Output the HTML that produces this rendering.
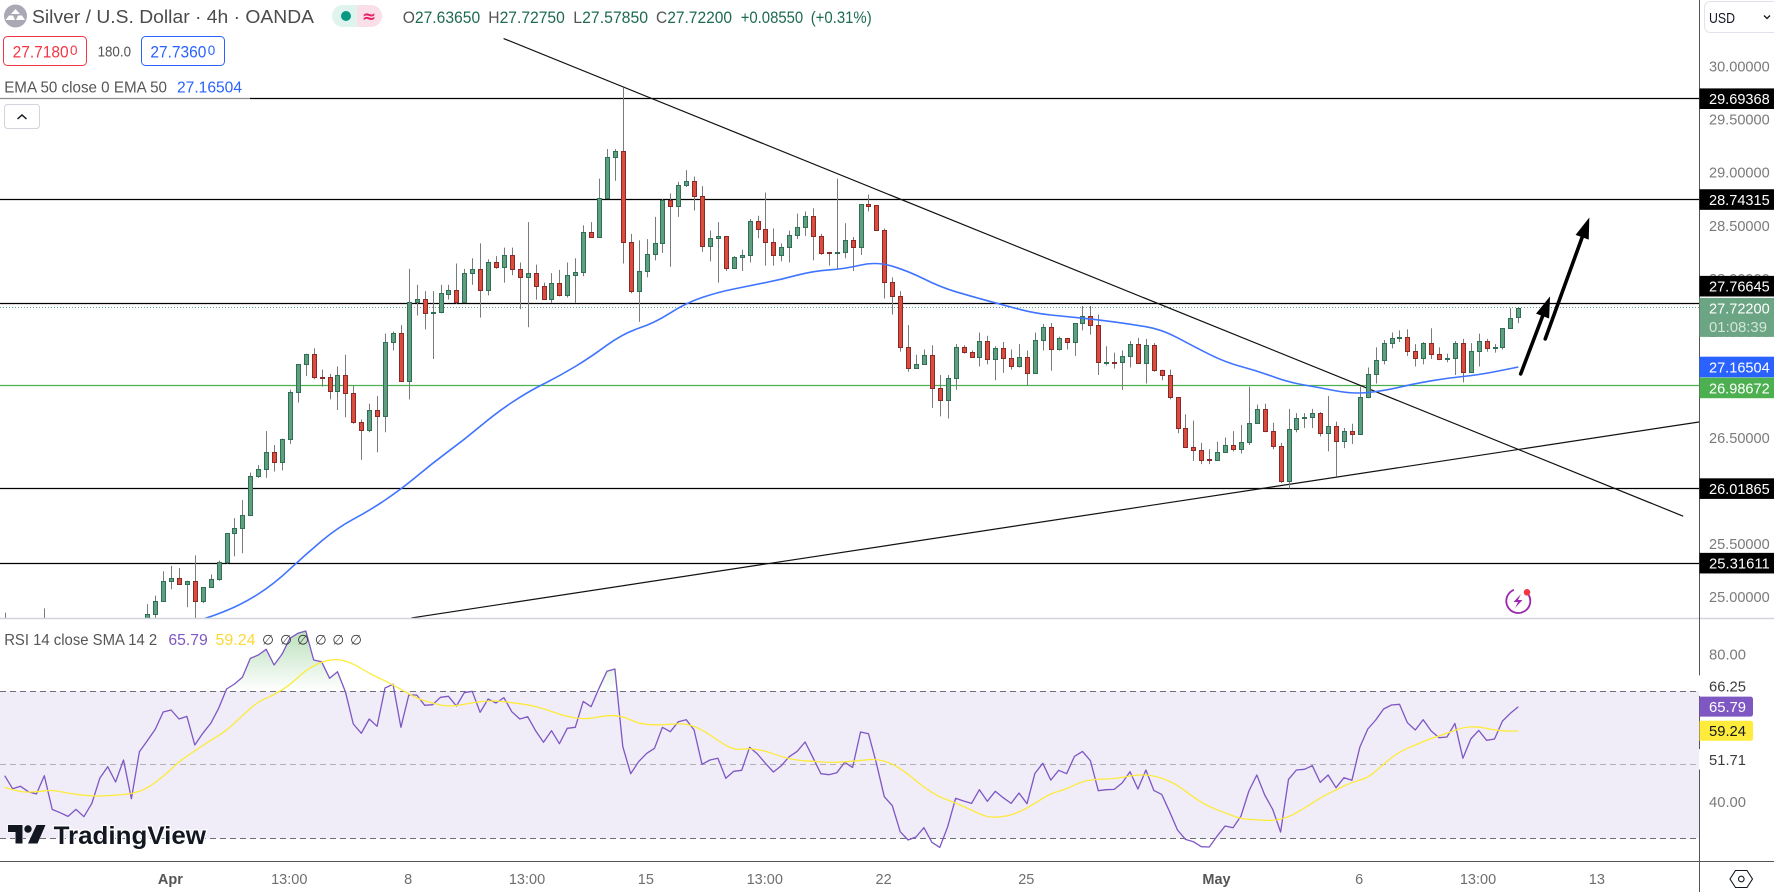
<!DOCTYPE html>
<html lang="en">
<head>
<meta charset="utf-8">
<title>Silver / U.S. Dollar 4h chart</title>
<style>
html,body{margin:0;padding:0;background:#fff;width:1774px;height:892px;overflow:hidden}
svg{display:block;font-family:"Liberation Sans",sans-serif}
text{white-space:pre}
</style>
</head>
<body>
<svg id="chart" xmlns="http://www.w3.org/2000/svg" width="1774" height="892" viewBox="0 0 1774 892">
  <defs>
    <clipPath id="price-clip"><rect x="0" y="0" width="1699" height="618"/></clipPath>
    <clipPath id="rsi-clip"><rect x="0" y="619" width="1699" height="242"/></clipPath>
    <clipPath id="overbought-clip"><rect x="0" y="619" width="1699" height="72"/></clipPath>
    <linearGradient id="overbought-gradient" gradientUnits="userSpaceOnUse" x1="0" y1="632" x2="0" y2="691">
      <stop offset="0" stop-color="#4caf50" stop-opacity="0.38"/>
      <stop offset="1" stop-color="#4caf50" stop-opacity="0"/>
    </linearGradient>
  </defs>
  <rect x="0" y="0" width="1774" height="892" fill="#ffffff"/>
  <g id="price-layer" clip-path="url(#price-clip)"></g>
  <g id="rsi-layer"></g>
  <g id="axis-layer"></g>

  <rect x="0" y="76" width="250" height="24" fill="#ffffff" fill-opacity="0.55"/>

  <g>
    <circle cx="15.5" cy="16" r="11.5" fill="#a9a8b4"/>
    <path d="M11 14l4.5-5 4.5 5zM5.5 20l3.5-4.5h4l2 4.500zM16 20l2-4.500h4l3 4.500z" fill="#ffffff"/>
    <text x="32" y="23" font-size="18" fill="#4c4c4c" textLength="282" lengthAdjust="spacingAndGlyphs">Silver / U.S. Dollar · 4h · OANDA</text>
    <path d="M343 5h14v22h-14a11 11 0 0 1 0-22z" fill="#dff3ef"/>
    <circle cx="346" cy="16" r="5" fill="#089981"/>
    <path d="M357 5h14a11 11 0 0 1 0 22h-14z" fill="#fbdfe8"/>
    <text x="369" y="22" font-size="17" font-weight="bold" text-anchor="middle" fill="#e91e63" font-family="'DejaVu Sans',sans-serif">≈</text>
  </g>

  <g font-size="16.500" fill="#1f6b50">
    <text x="402.700" y="23" textLength="77.500" lengthAdjust="spacingAndGlyphs"><tspan fill="#555555">O</tspan>27.63650</text>
    <text x="488.300" y="23" textLength="76.500" lengthAdjust="spacingAndGlyphs"><tspan fill="#555555">H</tspan>27.72750</text>
    <text x="573.300" y="23" textLength="74.800" lengthAdjust="spacingAndGlyphs"><tspan fill="#555555">L</tspan>27.57850</text>
    <text x="656" y="23" textLength="76" lengthAdjust="spacingAndGlyphs"><tspan fill="#555555">C</tspan>27.72200</text>
    <text x="740.700" y="23" textLength="62.500" lengthAdjust="spacingAndGlyphs">+0.08550</text>
    <text x="810.700" y="23" textLength="61" lengthAdjust="spacingAndGlyphs">(+0.31%)</text>
  </g>

  <g>
    <rect x="3.500" y="36.500" width="83" height="29" rx="4" fill="#ffffff" stroke="#f23645"/>
    <text x="12.600" y="57.500" font-size="17" fill="#f23645" textLength="56" lengthAdjust="spacingAndGlyphs">27.7180</text>
    <text x="70" y="55" font-size="14" fill="#f23645" textLength="7.500" lengthAdjust="spacingAndGlyphs">0</text>
    <text x="97.600" y="56.500" font-size="15" fill="#555555" textLength="33.400" lengthAdjust="spacingAndGlyphs">180.0</text>
    <rect x="141.500" y="36.500" width="83" height="29" rx="4" fill="#ffffff" stroke="#2962ff"/>
    <text x="150.400" y="57.500" font-size="17" fill="#2962ff" textLength="56" lengthAdjust="spacingAndGlyphs">27.7360</text>
    <text x="207.800" y="55" font-size="14" fill="#2962ff" textLength="7.500" lengthAdjust="spacingAndGlyphs">0</text>
  </g>

  <g>
    <text x="4.200" y="92.500" font-size="16" fill="#555555" textLength="162.800" lengthAdjust="spacingAndGlyphs">EMA 50 close 0 EMA 50</text>
    <text x="177" y="92.500" font-size="16" fill="#2962ff" textLength="65" lengthAdjust="spacingAndGlyphs">27.16504</text>
  </g>
  <g>
    <rect x="4.500" y="104.500" width="35" height="24" rx="3" fill="#ffffff" stroke="#d1d4dc"/>
    <path d="M17.500 119l4.500-4 4.500 4" fill="none" stroke="#131722" stroke-width="1.500"/>
  </g>

  <g font-size="16">
    <text x="4.200" y="645" fill="#555555" textLength="153" lengthAdjust="spacingAndGlyphs">RSI 14 close SMA 14 2</text>
    <text x="168.400" y="645" fill="#7e57c2" textLength="39.400" lengthAdjust="spacingAndGlyphs">65.79</text>
    <text x="215.500" y="645" fill="#fdd835" textLength="40" lengthAdjust="spacingAndGlyphs">59.24</text>
    <g font-size="13.500" fill="#333333" text-anchor="middle" font-family="'DejaVu Sans',sans-serif">
      <text x="268" y="644.500">∅</text>
      <text x="286" y="644.500">∅</text>
      <text x="303" y="644.500">∅</text>
      <text x="320.700" y="644.500">∅</text>
      <text x="338.300" y="644.500">∅</text>
      <text x="356" y="644.500">∅</text>
    </g>
  </g>

  <g>
    <path d="M8 825h14.500v18.500h-7v-11.500h-7.500z" fill="#131722" stroke="#ffffff" stroke-width="1" paint-order="stroke"/>
    <circle cx="28" cy="829" r="3.700" fill="#131722"/>
    <path d="M36.500 825h9l-8 18.500h-9.500z" fill="#131722"/>
    <text x="53.600" y="844" font-size="25" font-weight="bold" fill="#131722" stroke="#ffffff" stroke-width="2.500" paint-order="stroke" textLength="152.400" lengthAdjust="spacingAndGlyphs">TradingView</text>
  </g>

  <g>
    <circle cx="1518.300" cy="601" r="12" fill="none" stroke="#9c27b0" stroke-width="1.800" stroke-dasharray="58 17" transform="rotate(-30 1518.300 601)"/>
    <path d="M1521 594l-7.500 8h4.500l-3 6 7.500-8h-4.500z" fill="#9c27b0"/>
    <circle cx="1527" cy="592.300" r="3.300" fill="#f23645"/>
  </g>

  <g>
    <rect x="1704.500" y="1.500" width="80" height="31" rx="6" fill="#ffffff" stroke="#e0e3eb"/>
    <text x="1709" y="23" font-size="15" fill="#131722" textLength="26" lengthAdjust="spacingAndGlyphs">USD</text>
    <path d="M1764 15.500l3 3 3-3" fill="none" stroke="#131722" stroke-width="1.300"/>
  </g>

  <g>
    <path d="M1735.500 870.500h11.500l5.500 8.500-5.500 8.500h-11.500l-5.500-8.500z" fill="#ffffff" stroke="#131722" stroke-width="1.100"/>
    <circle cx="1741.300" cy="879" r="2.800" fill="none" stroke="#131722" stroke-width="1.100"/>
  </g>
</svg>

<script>
/* ---------- chart data ---------- */
var opens = [
24.50,24.45,24.40,24.42,24.38,24.44,24.36,24.30,24.28,24.34,24.30,24.26,24.30,24.38,24.44,24.42,24.46,24.55,
24.70,24.84,24.96,25.15,25.18,25.12,25.15,24.96,25.09,25.17,
25.33,25.60,25.65,25.77,26.14,26.20,26.36,26.27,26.49,26.93,
27.19,27.29,27.075,27.07,26.94,27.09,26.92,26.65,26.57,26.76,
26.70,27.40,27.49,27.03,27.78,27.81,27.67,27.68,27.85,27.89,
27.78,28.05,28.09,27.89,28.15,28.11,28.22,28.09,28.01,28.05,
27.93,27.81,27.96,27.84,28.03,28.06,28.44,28.39,28.76,29.14,
29.20,28.34,27.88,28.07,28.23,28.33,28.74,28.68,28.88,28.92,
28.78,28.31,28.38,28.40,28.10,28.20,28.22,28.54,28.47,28.34,
28.22,28.30,28.41,28.48,28.59,28.40,28.245,28.235,28.25,28.36,
28.30,28.70,28.69,28.46,27.97,27.83,27.35,27.16,27.19,27.28,
26.97,26.85,27.06,27.35,27.31,27.26,27.41,27.24,27.34,27.25,
27.17,27.26,27.11,27.42,27.54,27.33,27.44,27.40,27.58,27.65,
27.56,27.207,27.216,27.21,27.27,27.38,27.20,27.37,27.14,27.09,
26.88,26.59,26.41,26.38,26.296,26.29,26.36,26.43,26.39,26.46,
26.64,26.77,26.56,26.42,26.09,26.58,26.68,26.69,26.73,26.54,
26.61,26.47,26.56,26.53,26.88,27.10,27.23,27.39,27.44,27.45,
27.32,27.25,27.39,27.29,27.24,27.25,27.39,27.12,27.32,27.41,
27.34,27.35,27.53,27.6365];
var highs = [
24.85,24.62,24.58,24.66,24.60,24.89,24.55,24.48,24.45,24.52,24.50,24.40,24.47,24.55,24.60,24.58,24.62,24.68,
24.93,25.01,25.24,25.29,25.27,25.15,25.39,25.09,25.21,25.34,
25.60,25.74,25.91,26.17,26.24,26.56,26.43,26.49,26.95,27.19,
27.29,27.34,27.14,27.10,27.17,27.28,26.99,26.67,26.82,26.89,
27.48,27.50,27.56,28.09,27.94,27.88,27.88,27.94,27.94,28.14,
28.09,28.19,28.33,28.18,28.21,28.29,28.29,28.15,28.53,28.13,
27.96,28.05,28.08,28.15,28.19,28.50,28.53,28.94,29.22,29.22,
29.80,28.42,28.36,28.37,28.58,28.75,28.80,28.91,29.02,28.96,
28.87,28.45,28.53,28.40,28.21,28.27,28.56,28.59,28.81,28.47,
28.33,28.45,28.61,28.63,28.66,28.42,28.25,28.94,28.52,28.39,
28.70,28.79,28.69,28.47,28.01,27.88,27.56,27.28,27.33,27.37,
27.09,27.09,27.38,27.37,27.32,27.49,27.46,27.36,27.40,27.33,
27.38,27.32,27.49,27.57,27.58,27.45,27.44,27.58,27.74,27.74,
27.66,27.36,27.30,27.32,27.41,27.44,27.43,27.39,27.14,27.14,
26.88,26.72,26.66,26.45,26.39,26.46,26.50,26.56,26.62,26.98,
26.81,26.82,26.64,26.45,26.77,26.73,26.73,26.77,26.74,26.89,
26.65,26.59,26.63,26.98,27.16,27.35,27.42,27.49,27.51,27.52,
27.38,27.40,27.53,27.35,27.29,27.41,27.43,27.39,27.48,27.43,
27.38,27.53,27.72,27.7275];
var lows = [
24.35,24.30,24.30,24.28,24.28,24.26,24.22,24.20,24.22,24.22,24.18,24.20,24.24,24.32,24.34,24.36,24.40,24.50,
24.60,24.80,24.96,25.07,25.12,24.90,24.79,24.94,25.09,25.15,
25.31,25.38,25.41,25.76,26.12,26.12,26.18,26.19,26.44,26.83,
27.08,27.05,26.98,26.86,26.76,26.69,26.63,26.29,26.55,26.36,
26.55,27.32,27.03,26.86,27.65,27.52,27.24,27.67,27.80,27.76,
27.78,27.94,27.63,27.84,28.09,27.96,28.03,27.71,27.54,27.80,
27.80,27.77,27.83,27.82,27.77,28.02,28.39,28.39,28.75,28.92,
28.14,27.86,27.59,28.01,28.17,28.24,28.11,28.58,28.86,28.64,
28.25,28.16,27.96,28.07,28.10,28.07,28.15,28.38,28.12,28.12,
28.16,28.15,28.37,28.40,28.17,28.22,28.12,28.09,28.19,28.07,
28.22,28.63,28.46,27.81,27.66,27.31,27.12,27.16,27.19,26.78,
26.70,26.68,26.95,27.29,27.25,27.17,27.19,27.04,27.11,27.14,
27.16,26.99,27.11,27.32,27.13,27.32,27.33,27.27,27.51,27.47,
27.09,27.18,27.15,26.95,27.16,27.20,27.01,27.12,27.04,26.86,
26.54,26.40,26.28,26.25,26.25,26.29,26.36,26.37,26.35,26.43,
26.63,26.55,26.39,26.07,26.02,26.55,26.59,26.59,26.51,26.37,
26.13,26.40,26.44,26.53,26.87,27.01,27.19,27.34,27.40,27.27,
27.17,27.19,27.24,27.23,27.21,27.09,27.02,27.11,27.17,27.31,
27.30,27.33,27.53,27.5785];
var closes = [
24.45,24.40,24.42,24.38,24.44,24.36,24.30,24.28,24.34,24.30,24.26,24.30,24.38,24.44,24.42,24.46,24.55,24.70,
24.84,24.96,25.15,25.18,25.12,25.15,24.96,25.09,25.17,25.33,
25.60,25.65,25.77,26.14,26.20,26.36,26.27,26.49,26.93,27.19,
27.29,27.07,27.065,26.94,27.09,26.92,26.65,26.57,26.76,26.70,
27.40,27.49,27.03,27.78,27.81,27.67,27.68,27.86,27.89,27.78,
28.05,28.09,27.89,28.15,28.11,28.22,28.09,28.01,28.05,27.93,
27.81,27.96,27.84,28.03,28.06,28.44,28.39,28.76,29.14,29.20,
28.34,27.88,28.07,28.23,28.33,28.74,28.68,28.88,28.92,28.78,
28.31,28.38,28.40,28.10,28.20,28.22,28.54,28.47,28.34,28.22,
28.30,28.41,28.48,28.59,28.40,28.24,28.235,28.25,28.36,28.30,
28.70,28.685,28.46,27.97,27.83,27.35,27.16,27.19,27.28,26.97,
26.85,27.06,27.35,27.31,27.26,27.41,27.24,27.34,27.25,27.17,
27.26,27.11,27.42,27.54,27.33,27.44,27.40,27.58,27.65,27.56,
27.21,27.216,27.21,27.27,27.38,27.20,27.37,27.14,27.09,26.88,
26.59,26.41,26.38,26.29,26.29,26.36,26.43,26.39,26.46,26.64,
26.77,26.56,26.42,26.09,26.58,26.68,26.69,26.73,26.54,26.61,
26.47,26.56,26.53,26.88,27.10,27.23,27.39,27.44,27.45,27.32,
27.25,27.39,27.29,27.24,27.25,27.39,27.12,27.32,27.41,27.34,
27.35,27.53,27.63,27.722];

var emaBars = [25,26,30,34,38,42,46,50,54,58,62,66,70,74,78,82,86,90,94,98,102,106,110,114,118,122,126,130,134,138,142,146,150,154,158,162,166,170,174,178,182,186,191];
var emaValues = [24.79,24.81,24.93,25.12,25.40,25.65,25.81,26.01,26.26,26.48,26.73,26.93,27.08,27.26,27.48,27.58,27.77,27.87,27.93,27.99,28.07,28.09,28.16,28.07,27.92,27.83,27.75,27.67,27.64,27.61,27.57,27.52,27.36,27.21,27.13,27.02,26.97,26.91,26.94,27.01,27.06,27.09,27.165];

var rsiValues = [
47.06,43.53,44.17,42.72,42.09,47.06,37.92,37.02,36.02,37.92,
35.93,39.55,46.34,49.50,45.34,51.31,40.82,53.58,56.56,59.63,
64.34,64.88,62.44,63.16,55.38,58.55,61.26,65.33,70.58,71.94,
73.75,78.90,79.81,81.35,77.09,79.99,84.33,85.69,86.32,78.45,
78.00,73.48,75.29,69.86,61.08,58.55,62.44,60.45,70.85,71.85,
60.18,68.95,68.95,66.15,66.33,68.32,68.59,65.97,69.59,69.95,
64.25,67.87,66.78,68.23,64.43,62.44,63.07,59.27,56.11,59.27,
55.75,59.91,60.18,67.23,65.79,70.76,75.38,76.01,54.93,47.60,
50.86,53.12,54.48,60.18,59.00,61.72,62.26,59.45,50.14,51.31,
51.77,46.34,48.24,48.51,54.75,52.94,50.41,48.06,49.78,52.22,
53.66,56.20,51.95,47.60,47.33,47.88,50.68,49.32,58.91,58.46,
50.41,41.36,38.92,31.86,29.60,30.42,32.95,28.97,27.61,33.22,
40.91,40.19,39.55,43.26,40.10,42.81,41.09,39.55,42.36,39.46,
47.69,50.41,45.87,48.51,47.60,52.31,53.66,51.13,42.99,43.26,
43.35,45.07,48.15,43.44,48.60,43.08,41.99,37.29,32.32,29.78,
29.15,27.79,27.70,30.69,33.40,32.95,36.11,42.90,47.24,41.81,
37.92,31.77,46.06,48.60,48.78,49.77,45.25,47.24,43.80,46.52,
45.80,54.75,59.73,62.17,65.15,66.24,66.42,61.44,59.45,62.26,
59.18,57.37,57.55,61.26,51.77,57.01,59.36,56.65,57.01,61.90,
63.98,65.79];

var smaBars = [0,2,4,6,8,10,12,14,16,18,20,22,24,26,28,30,32,34,36,38,40,42,44,46,48,50,52,54,56,58,60,62,64,66,68,70,72,74,76,78,80,82,84,86,88,90,92,94,96,98,100,102,104,106,108,110,112,114,116,118,120,122,124,126,128,130,132,134,136,138,140,142,144,146,148,150,152,154,156,158,160,162,164,166,168,170,172,174,176,178,180,182,184,186,188,190,191];
var smaValues = [43.9,42.5,42.7,43.2,42.3,41.7,41.5,41.8,42.1,43.6,46.8,50.9,53.8,56.7,59.3,63.4,67.2,69.0,71.7,75.7,78.0,78.8,77.5,74.8,72.8,70.5,68.05,66.7,65.8,66.4,67.2,67.4,66.9,66.3,65.3,63.7,62.6,62.5,63.5,63.2,61.2,60.8,61.0,61.2,59.6,56.6,54.0,54.5,53.8,52.2,51.2,51.0,50.6,50.8,51.2,51.6,50.4,47.5,43.9,41.2,39.7,37.7,35.75,35.85,37.1,39.55,42.3,43.4,45.6,46.15,46.15,47.06,47.4,46.5,44.5,41.2,38.6,37.0,35.3,35.1,34.8,35.8,38.2,41.1,43.2,45.3,46.4,50.2,53.6,55.4,57.2,58.5,60.2,60.4,59.4,59.1,59.24];

var priceTicks = [30,29.5,29,28.5,28,27.5,27,26.5,26,25.5,25];
var rsiTicks = [80,40];
var rsiBands = [70,50,30];
var rsiBandLabels = ["66.25","51.71"];
var timeBars = [21,36,51,66,81,96,111,129,153,171,186,201];
var timeLabels = ["Apr","13:00","8","13:00","15","13:00","22","25","May","6","13:00","13"];

var blackLevels = [29.69368,28.74315,27.76645,26.01865,25.31611];
var greenLevel = 26.98672;
var lastPrice = 27.722;
var emaLast = 27.16504;

var downTrendBars = [62.96,211.8];
var downTrendPrices = [30.261,25.759];
var upTrendBars = [51.33,213.8];
var upTrendPrices = [24.80,26.647];
var arrowOneBars = [191.3,195.0];
var arrowOnePrices = [27.10,27.83];
var arrowTwoBars = [194.4,199.96];
var arrowTwoPrices = [27.43,28.574];

/* ---------- axis functions ---------- */
function xBar(i){ return 4.65 + 7.925 * i; }
function yPrice(p){ return 66.2 + (30 - p) * 106.1; }
function yRsi(r){ return 654.3 + (80 - r) * 3.685; }

var NS = 'http://www.w3.org/2000/svg';
function add(parent, tag, attrs, txt){
  var el = document.createElementNS(NS, tag);
  for (var k in attrs) { el.setAttribute(k, attrs[k]); }
  if (txt !== undefined) { el.textContent = txt; }
  parent.appendChild(el);
  return el;
}
function smoothPath(xs, ys){
  var d = 'M' + xs[0].toFixed(1) + ' ' + ys[0].toFixed(1);
  for (var n = 1; n < xs.length - 1; n++) {
    var mx = (xs[n] + xs[n + 1]) / 2, my = (ys[n] + ys[n + 1]) / 2;
    d += 'Q' + xs[n].toFixed(1) + ' ' + ys[n].toFixed(1) + ' ' + mx.toFixed(1) + ' ' + my.toFixed(1);
  }
  d += 'L' + xs[xs.length - 1].toFixed(1) + ' ' + ys[ys.length - 1].toFixed(1);
  return d;
}
var priceLayer = document.getElementById('price-layer');
var rsiLayer = document.getElementById('rsi-layer');
var axisLayer = document.getElementById('axis-layer');
var el, i;

/* horizontal levels */
for (i = 0; i < blackLevels.length; i++) {
  var ly = Math.floor(yPrice(blackLevels[i])) + 0.5;
  el = add(priceLayer, 'line', {x1:0, x2:1699, y1:ly, y2:ly, stroke:'#000000', 'stroke-width':1.3});
  
  
}
var gy = Math.floor(yPrice(greenLevel)) + 0.5;
el = add(priceLayer, 'line', {x1:0, x2:1699, y1:gy, y2:gy, stroke:'#4caf50', 'stroke-width':1.2});


var dy0 = Math.floor(yPrice(lastPrice)) + 0.5;
el = add(priceLayer, 'line', {x1:0, x2:1699, y1:dy0, y2:dy0, stroke:'#5aa97f', 'stroke-width':1, 'stroke-dasharray':'1 2'});



/* trend lines */
el = add(priceLayer, 'line', {x1:xBar(downTrendBars[0]), y1:yPrice(downTrendPrices[0]), x2:xBar(downTrendBars[1]), y2:yPrice(downTrendPrices[1]), stroke:'#111111', 'stroke-width':1.2});


el = add(priceLayer, 'line', {x1:xBar(upTrendBars[0]), y1:yPrice(upTrendPrices[0]), x2:xBar(upTrendBars[1]), y2:yPrice(upTrendPrices[1]), stroke:'#111111', 'stroke-width':1.2});



/* candles */
for (i = 0; i < opens.length; i++) {
  var up = closes[i] >= opens[i];
  var cx = Math.round(xBar(i)) + 0.5;
  var bt = Math.round(yPrice(Math.max(opens[i], closes[i]))) + 0.5;
  var bb = Math.round(yPrice(Math.min(opens[i], closes[i]))) + 0.5;
  if (bb - bt < 1) { bb = bt + 1; }
  el = add(priceLayer, 'line', {x1:cx, x2:cx, y1:yPrice(highs[i]), y2:yPrice(lows[i]), stroke:'#7a7a7a', 'stroke-width':1});
  
  
  el = add(priceLayer, 'rect', {x:cx - 2, y:bt, width:4, height:bb - bt, fill:up ? '#5f9f80' : '#da4c3c', stroke:up ? '#2f6f55' : '#8a2a28', 'stroke-width':1});
  
  
}

/* EMA */
var emaXs = [], emaYs = [];
for (i = 0; i < emaBars.length; i++) {
  emaXs.push(xBar(emaBars[i]));
  emaYs.push(yPrice(emaValues[i]));
}
el = add(priceLayer, 'path', {d:smoothPath(emaXs, emaYs), fill:'none', stroke:'#3f74ff', 'stroke-width':1.6, 'stroke-linejoin':'round'});



/* arrows */
function drawArrow(bars, prices, name){
  var x1 = xBar(bars[0]), y1 = yPrice(prices[0]), x2 = xBar(bars[1]), y2 = yPrice(prices[1]);
  var dx = x2 - x1, dy = y2 - y1, len = Math.sqrt(dx*dx + dy*dy), ux = dx/len, uy = dy/len;
  var bx = x2 - ux*21, by = y2 - uy*21;
  var g = add(document.getElementById('chart'), 'g', {});
  
  
  var shaft = add(g, 'line', {x1:x1, y1:y1, x2:bx, y2:by, stroke:'#000000', 'stroke-width':3.6, 'stroke-linecap':'round'});
  
  
  var head = add(g, 'polygon', {points:x2+','+y2+' '+(bx - uy*7)+','+(by + ux*7)+' '+(bx + uy*7)+','+(by - ux*7), fill:'#000000'});
  
  
}
drawArrow(arrowOneBars, arrowOnePrices, 'arrow-near');
drawArrow(arrowTwoBars, arrowTwoPrices, 'arrow-far');

/* RSI band */
el = add(rsiLayer, 'rect', {x:0, y:yRsi(rsiBands[0]), width:1699, height:yRsi(rsiBands[2]) - yRsi(rsiBands[0]), fill:'#f0ecf8'});


for (i = 0; i < rsiBands.length; i++) {
  var by0 = Math.floor(yRsi(rsiBands[i])) + 0.5;
  el = add(rsiLayer, 'line', {x1:0, x2:1699, y1:by0, y2:by0, stroke:i === 1 ? '#b2afb8' : '#6f6f78', 'stroke-width':1, 'stroke-dasharray':'6 4'});
  
  
}

/* RSI lines */
var rsiPts = [], rsiFill = [];
for (i = 0; i < rsiValues.length; i++) { rsiPts.push(xBar(i).toFixed(1) + ',' + yRsi(rsiValues[i]).toFixed(1)); }
rsiFill.push(xBar(0).toFixed(1) + ',' + yRsi(rsiBands[0]).toFixed(1));
rsiFill = rsiFill.concat(rsiPts);
rsiFill.push(xBar(rsiValues.length - 1).toFixed(1) + ',' + yRsi(rsiBands[0]).toFixed(1));
el = add(rsiLayer, 'polygon', {points:rsiFill.join(' '), fill:'url(#overbought-gradient)', 'clip-path':'url(#overbought-clip)'});


var smaXs = [], smaYs = [];
for (i = 0; i < smaBars.length; i++) {
  smaXs.push(xBar(smaBars[i]));
  smaYs.push(yRsi(smaValues[i]));
}
el = add(rsiLayer, 'polyline', {points:rsiPts.join(' '), fill:'none', stroke:'#7e57c2', 'stroke-width':1.3, 'stroke-linejoin':'round', 'clip-path':'url(#rsi-clip)'});


el = add(rsiLayer, 'path', {d:smoothPath(smaXs, smaYs), fill:'none', stroke:'#fdeb3b', 'stroke-width':1.3, 'stroke-linejoin':'round', 'clip-path':'url(#rsi-clip)'});



/* axis frame */
el = add(axisLayer, 'line', {x1:0, x2:1774, y1:618.5, y2:618.5, stroke:'#d1d4dc', 'stroke-width':1.4});


el = add(axisLayer, 'line', {x1:1699.5, x2:1699.5, y1:0, y2:892, stroke:'#555555', 'stroke-width':1});


el = add(axisLayer, 'line', {x1:0, x2:1774, y1:861.5, y2:861.5, stroke:'#555555', 'stroke-width':1});



/* price ticks */
for (i = 0; i < priceTicks.length; i++) {
  el = add(axisLayer, 'text', {x:1709, y:yPrice(priceTicks[i]) + 5.4, 'font-size':15, fill:'#7a7a7a', textLength:60.7, lengthAdjust:'spacingAndGlyphs'}, priceTicks[i].toFixed(5));
  
  
}

/* price tags */
var tagPrices = [29.69368,28.74315,27.76645,27.16504,26.98672,26.01865,25.31611];
var tagColors = ['#000000','#000000','#000000','#2962ff','#4caf50','#000000','#000000'];
var tagShift = [0,0,-17,0,2,0,0];
for (i = 0; i < tagPrices.length; i++) {
  var tc = yPrice(tagPrices[i]) + tagShift[i];
  el = add(axisLayer, 'rect', {x:1699.5, y:tc - 10.3, width:74.5, height:20.6, fill:tagColors[i]});
  
  
  el = add(axisLayer, 'text', {x:1709, y:tc + 5.4, 'font-size':15, fill:'#ffffff', textLength:60.7, lengthAdjust:'spacingAndGlyphs'}, tagPrices[i].toFixed(5));
  
  
}
var lastY = yPrice(lastPrice);
el = add(axisLayer, 'rect', {x:1699.5, y:lastY - 10, width:74.5, height:39, fill:'#6ba583'});


el = add(axisLayer, 'text', {x:1709, y:lastY + 5.8, 'font-size':15, fill:'#ffffff', textLength:60.7, lengthAdjust:'spacingAndGlyphs'}, lastPrice.toFixed(5));


el = add(axisLayer, 'text', {x:1709, y:lastY + 24, 'font-size':15, fill:'#ffffff', 'fill-opacity':0.7, textLength:58, lengthAdjust:'spacingAndGlyphs'}, '01:08:39');



/* RSI axis */
for (i = 0; i < rsiTicks.length; i++) {
  el = add(axisLayer, 'text', {x:1709, y:yRsi(rsiTicks[i]) + 5.4, 'font-size':15, fill:'#7a7a7a', textLength:37, lengthAdjust:'spacingAndGlyphs'}, rsiTicks[i].toFixed(2));
  
  
}
for (i = 0; i < rsiBandLabels.length; i++) {
  var bc = yRsi(rsiBands[i]) - 5.3;
  el = add(axisLayer, 'rect', {x:1699, y:bc - 10.5, width:60, height:20.5, fill:'#ffffff'});
  
  
  el = add(axisLayer, 'text', {x:1709, y:bc + 5.4, 'font-size':15, fill:'#3c3c3c', textLength:37, lengthAdjust:'spacingAndGlyphs'}, rsiBandLabels[i]);
  
  
}
var rsiLast = rsiValues[rsiValues.length - 1];
var smaLast = smaValues[smaValues.length - 1];
el = add(axisLayer, 'path', {d:'M1699.5 ' + (yRsi(rsiLast) - 10) + 'h51a2.500 2.500 0 0 1 2.500 2.500v15a2.500 2.500 0 0 1 -2.500 2.500h-51z', fill:'#7e57c2'});


el = add(axisLayer, 'text', {x:1709, y:yRsi(rsiLast) + 5.4, 'font-size':15, fill:'#ffffff', textLength:37, lengthAdjust:'spacingAndGlyphs'}, rsiLast.toFixed(2));


el = add(axisLayer, 'path', {d:'M1699.5 ' + (yRsi(smaLast) - 10) + 'h51a2.500 2.500 0 0 1 2.500 2.500v15a2.500 2.500 0 0 1 -2.500 2.500h-51z', fill:'#ffeb3b'});


el = add(axisLayer, 'text', {x:1709, y:yRsi(smaLast) + 5.4, 'font-size':15, fill:'#131722', textLength:37, lengthAdjust:'spacingAndGlyphs'}, smaLast.toFixed(2));



/* time axis */
for (i = 0; i < timeLabels.length; i++) {
  var bold = timeLabels[i] === 'Apr' || timeLabels[i] === 'May';
  el = add(axisLayer, 'text', {x:xBar(timeBars[i]) - 0.7, y:884, 'font-size':14.5, 'text-anchor':'middle', fill:bold ? '#555555' : '#6e6e6e', 'font-weight':bold ? 'bold' : 'normal'}, timeLabels[i]);
  
  
}
</script>
</body>
</html>
